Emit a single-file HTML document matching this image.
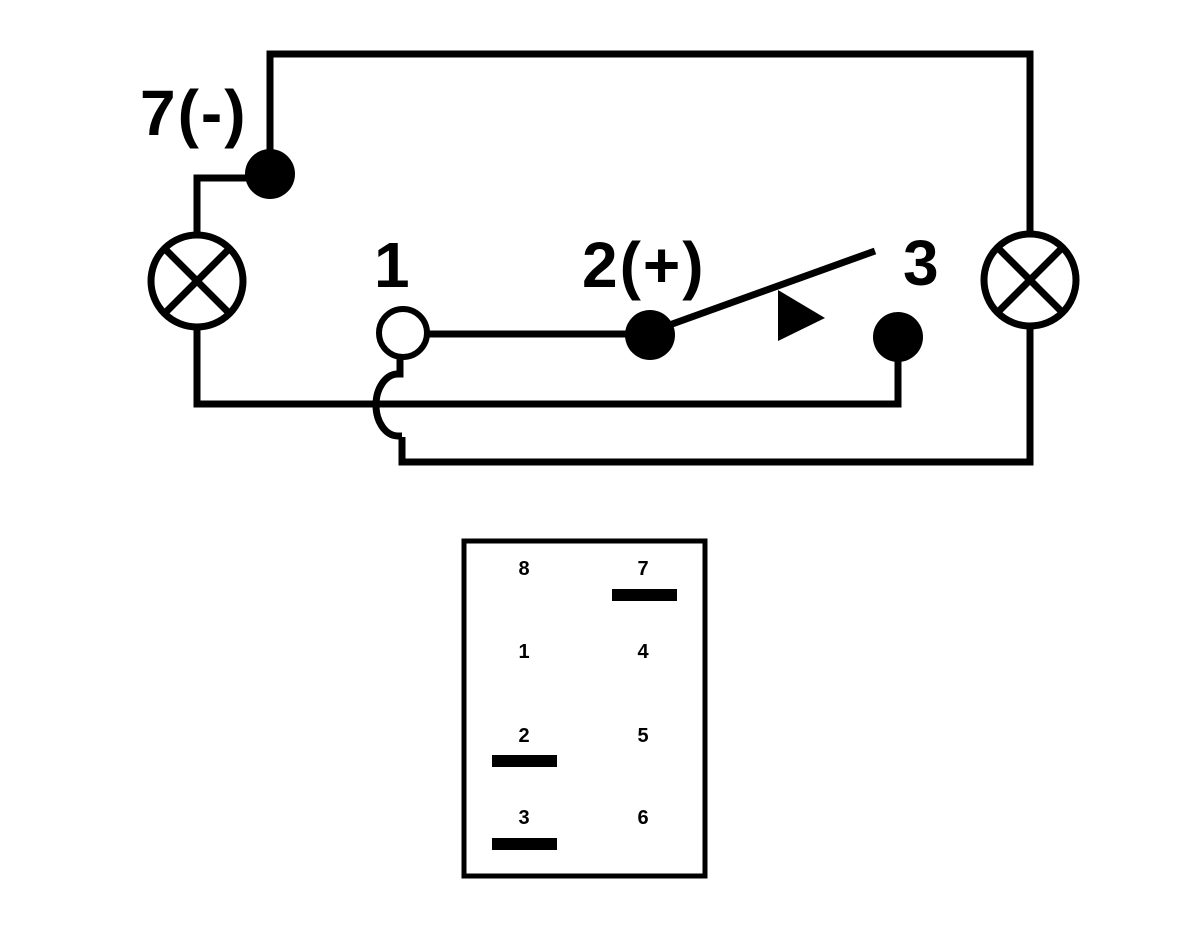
<!DOCTYPE html>
<html><head><style>body{margin:0;background:#fff}svg{display:block}</style></head>
<body>
<svg width="1200" height="950" viewBox="0 0 1200 950" xmlns="http://www.w3.org/2000/svg">
<g fill="none" stroke="#000" stroke-width="7" stroke-linejoin="miter">
<polyline points="270,174 270,54 1030,54 1030,233"/>
<polyline points="1030,327 1030,462 402,462 402,437"/>
<polyline points="270,178 197,178 197,234"/>
<polyline points="197,328 197,404 898,404 898,337"/>
<line x1="403" y1="334" x2="650" y2="334"/>
<line x1="650" y1="332" x2="875" y2="251"/>
<path d="M400,358 L400,374 L398,374 A22,31 0 0 0 398,436 L402,436"/>
<circle cx="197" cy="281" r="46"/>
<circle cx="1030" cy="280" r="46"/>
<line x1="164" y1="248" x2="230" y2="314"/><line x1="230" y1="248" x2="164" y2="314"/>
<line x1="997" y1="247" x2="1063" y2="313"/><line x1="1063" y1="247" x2="997" y2="313"/>
<rect x="464" y="541" width="241" height="335" stroke-width="5"/>
</g>
<circle cx="403" cy="333" r="24" fill="#fff" stroke="#000" stroke-width="6"/>
<circle cx="270" cy="174" r="25"/>
<circle cx="650" cy="335" r="25"/>
<circle cx="898" cy="337" r="25"/>
<polygon points="778,290 825,318 778,341"/>
<g font-family="Liberation Sans, sans-serif" font-weight="bold" font-size="64" letter-spacing="2">
<text x="140" y="135">7(-)</text>
<text x="374" y="287">1</text>
<text x="582" y="287">2(+)</text>
<text x="903" y="285">3</text>
</g>
<g font-family="Liberation Sans, sans-serif" font-weight="bold" font-size="20" text-anchor="middle">
<text x="524" y="575">8</text><text x="643" y="575">7</text>
<text x="524" y="658">1</text><text x="643" y="658">4</text>
<text x="524" y="742">2</text><text x="643" y="742">5</text>
<text x="524" y="824">3</text><text x="643" y="824">6</text>
</g>
<rect x="612" y="589" width="65" height="12"/>
<rect x="492" y="755" width="65" height="12"/>
<rect x="492" y="838" width="65" height="12"/>
</svg>
</body></html>
